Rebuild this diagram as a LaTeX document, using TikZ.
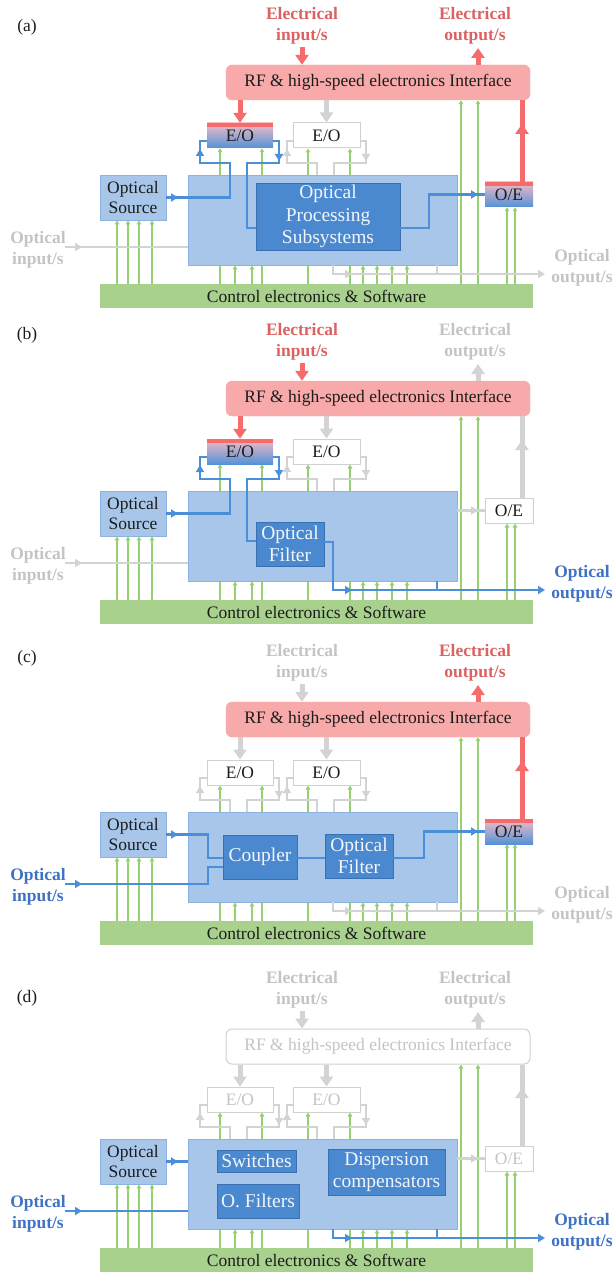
\documentclass[tikz,border=0pt]{standalone}
\usepackage{fontspec}
\setmainfont{Liberation Serif}
\usetikzlibrary{arrows.meta,backgrounds}
\pgfdeclarelayer{paper}
\pgfsetlayers{paper,background,main}
\definecolor{rfFill}{HTML}{F8A9A9}
\definecolor{redL}{HTML}{F66B6B}
\definecolor{redT}{HTML}{DC6262}
\definecolor{grayL}{HTML}{D3D3D3}
\definecolor{grayT}{HTML}{C4C4C4}
\definecolor{grayB}{HTML}{D0D0D0}
\definecolor{blueL}{HTML}{4A8FD8}
\definecolor{blueT}{HTML}{3F72C6}
\definecolor{boxL}{HTML}{A7C6E9}
\definecolor{boxLB}{HTML}{8DB2E0}
\definecolor{boxD}{HTML}{4A89D0}
\definecolor{boxDB}{HTML}{3A6FB0}
\definecolor{barG}{HTML}{A9D18E}
\definecolor{grnL}{HTML}{95D071}
\definecolor{txt}{HTML}{1C1C1C}
\definecolor{wtxt}{HTML}{F2F6FC}
\definecolor{eoBlue}{HTML}{5592D6}
\definecolor{eoMid}{HTML}{B3CCEC}
\definecolor{eoTop}{HTML}{F3BCC6}
\tikzset{
  basenode/.style={font=\fontsize{17.5}{20}\selectfont, inner sep=0pt, align=center, text=txt},
  lbl/.style={basenode, font=\bfseries\fontsize{17.5}{21}\selectfont},
  boxlight/.style={basenode, draw=boxLB, fill=boxL, line width=0.8pt},
  boxdark/.style={basenode, draw=boxDB, fill=boxD, text=wtxt, line width=0.8pt, font=\fontsize{19.5}{22.5}\selectfont},
  rfon/.style={basenode, draw=rfFill, fill=rfFill, rounded corners=6pt},
  rfoff/.style={basenode, draw=grayB, fill=white, text=grayT, rounded corners=6pt, line width=1pt},
  conv on/.style={basenode, draw=none, top color=eoTop, middle color=eoMid, bottom color=eoBlue,
     path picture={\fill[redL] (path picture bounding box.north west) rectangle ([yshift=-4pt]path picture bounding box.north east);}},
  conv off/.style={basenode, draw=grayB, fill=white, line width=1pt},
  conv dim/.style={conv off, text=grayT},
  barbox/.style={basenode, fill=barG, draw=none},
  fatline/.style={line width=5pt},
  fattip/.style={-{Triangle[length=10pt,width=13pt]}},
  oline/.style={line width=2.2pt},
  ahead/.style={-{Triangle[length=7pt,width=8pt]}},
  grn/.style={draw=grnL, line width=1.7pt, -{Triangle[length=4pt,width=4.5pt]}},
}
\newcommand\eobr[2]{%
  \begin{scope}[xshift=#2pt]
    \draw[oline, draw=#1, ahead] (230,175) -- (230,163) -- (200,163) -- (200,149);
    \draw[oline, draw=#1] (200,152) -- (200,141) -- (207,141);
    \draw[oline, draw=#1, ahead] (273,141) -- (279,141) -- (279,161);
    \draw[oline, draw=#1] (279,158) -- (279,163) -- (247,163) -- (247,175);
  \end{scope}}
\newcommand\panelbase[2]{%
  \node[basenode] (lab) at (27,#2) {(#1)};
  \node[rf, minimum width=304pt, minimum height=35pt] (rf) at (378,82.5) {RF \& high-speed electronics Interface};
  \node[eoA, minimum width=66pt, minimum height=25pt] (eo1) at (240,135.5) {E/O};
  \node[eoB, minimum width=67pt, minimum height=25pt] (eo2) at (326.5,135.5) {E/O};
  \node[boxlight, minimum width=269pt, minimum height=90pt] (proc) at (322.5,220) {};
  \node[oe, minimum width=48pt, minimum height=25pt] (oe) at (509,194.5) {O/E};
  \node[boxlight, minimum width=66pt, minimum height=45pt] (src) at (133,197.5) {Optical\\Source};
  \node[barbox, minimum width=433pt, minimum height=24pt] (bar) at (316.5,296) {Control electronics \& Software};
  \node[lbl, einT] (ein) at (302,26) {Electrical\\input/s};
  \node[lbl, eoutT] (eout) at (475,26) {Electrical\\output/s};
  \node[lbl, oinT] (oin) at (38,250) {Optical\\input/s};
  \node[lbl, ooutT] (oout) at (582,268) {Optical\\output/s};
  \begin{scope}[on background layer]
    \foreach \gx in {117,128,139,152} {\draw[grn] (\gx,0 |- bar.north) -- (\gx,0 |- src.south);}
    \foreach \gx in {220,262} {\draw[grn] (\gx,0 |- bar.north) -- (\gx,0 |- eo1.south);}
    \foreach \gx in {308,350} {\draw[grn] (\gx,0 |- bar.north) -- (\gx,0 |- eo2.south);}
    \foreach \gx in {235,252,363,377,392,407} {\draw[grn] (\gx,0 |- bar.north) -- (\gx,0 |- proc.south);}
    \foreach \gx in {461,478} {\draw[grn] (\gx,0 |- bar.north) -- (\gx,0 |- rf.south);}
    \foreach \gx in {507,515} {\draw[grn] (\gx,0 |- bar.north) -- (\gx,0 |- oe.south);}
  \end{scope}
  \draw[fatline, einL, fattip] (302,47) -- (302,0 |- rf.north);
  \draw[fatline, eoutL, fattip] (478,0 |- rf.north) -- (478,48);
  \draw[fatline, rfeoL, fattip] (rf.south -| eo1.north) -- (eo1.north);
  \draw[fatline, draw=grayL, fattip] (rf.south -| eo2.north) -- (eo2.north);
  \draw[fatline, oerfL] (oe.north -| 522,0) -- (522,0 |- rf.south);
  \draw[fatline, oerfL, fattip] (oe.north -| 522,0) -- (522,124);
  \eobr{grayL}{87}
}
\begin{document}
\begin{tikzpicture}[x=1pt,y=-1pt]
\useasboundingbox (0,0) rectangle (613,1273);
\begin{pgfonlayer}{paper}
  \fill[white] (0,0) rectangle (613,1273);
\end{pgfonlayer}

% ---------------- (a)
\begin{scope}[name prefix=a-, rf/.style=rfon, eoA/.style={conv on}, eoB/.style={conv off}, oe/.style={conv on},
   einL/.style={draw=redL}, einT/.style={text=redT}, eoutL/.style={draw=redL}, eoutT/.style={text=redT},
   rfeoL/.style={draw=redL}, oerfL/.style={draw=redL}, oinT/.style={text=grayT}, ooutT/.style={text=grayT}]
  \panelbase{a}{27}
  \node[boxdark, minimum width=144pt, minimum height=67pt] (sub) at (328,216.5) {Optical\\Processing\\Subsystems};
  \draw[oline, draw=blueL, ahead] (src.east) -- (178,197.5);
  \draw[oline, draw=blueL, ahead] (176,197.5) -- (230,197.5) -- (230,163) -- (200,163) -- (200,149);
  \draw[oline, draw=blueL] (200,152) -- (200,141) -- (eo1.west |- 0,141);
  \draw[oline, draw=blueL, ahead] (eo1.east |- 0,141) -- (279,141) -- (279,161);
  \draw[oline, draw=blueL] (279,158) -- (279,163) -- (247,163) -- (247,228) -- (sub.west |- 0,228);
  \draw[oline, draw=blueL, ahead] (sub.east |- 0,228) -- (429,228) -- (429,194.5) -- (478,194.5);
  \draw[oline, draw=blueL] (476,194.5) -- (oe.west);
  \draw[oline, draw=grayL, ahead] (65,247) -- (82,247);
  \draw[oline, draw=grayL] (80,247) -- (proc.west |- 0,247);
  \draw[oline, draw=grayL] (437,0 |- proc.south) -- (437,274);
  \draw[oline, draw=grayL, ahead] (333,0 |- proc.south) -- (333,274) -- (352,274);
  \draw[oline, draw=grayL, ahead] (350,274) -- (545,274);
\end{scope}

% ---------------- (b)
\begin{scope}[yshift=-316pt, name prefix=b-, rf/.style=rfon, eoA/.style={conv on}, eoB/.style={conv off}, oe/.style={conv off},
   einL/.style={draw=redL}, einT/.style={text=redT}, eoutL/.style={draw=grayL}, eoutT/.style={text=grayT},
   rfeoL/.style={draw=redL}, oerfL/.style={draw=grayL}, oinT/.style={text=grayT}, ooutT/.style={text=blueT}]
  \panelbase{b}{19}
  \node[boxdark, minimum width=68pt, minimum height=44pt] (filt) at (290,228) {Optical\\Filter};
  \draw[oline, draw=blueL, ahead] (src.east) -- (178,197.5);
  \draw[oline, draw=blueL, ahead] (176,197.5) -- (230,197.5) -- (230,163) -- (200,163) -- (200,149);
  \draw[oline, draw=blueL] (200,152) -- (200,141) -- (eo1.west |- 0,141);
  \draw[oline, draw=blueL, ahead] (eo1.east |- 0,141) -- (279,141) -- (279,161);
  \draw[oline, draw=blueL] (279,158) -- (279,163) -- (247,163) -- (247,225) -- (filt.west |- 0,225);
  \draw[oline, draw=blueL, ahead] (filt.east |- 0,226) -- (333,226) -- (333,274) -- (352,274);
  \draw[oline, draw=blueL, ahead] (350,274) -- (545,274);
  \draw[oline, draw=blueL] (437,0 |- proc.south) -- (437,274);
  \draw[oline, draw=grayL, ahead] (65,247) -- (82,247);
  \draw[oline, draw=grayL] (80,247) -- (proc.west |- 0,247);
  \draw[oline, draw=grayL, ahead] (proc.east |- oe.west) -- (478,194.5);
  \draw[oline, draw=grayL] (476,194.5) -- (oe.west);
\end{scope}

% ---------------- (c)
\begin{scope}[yshift=-637pt, name prefix=c-, rf/.style=rfon, eoA/.style={conv off}, eoB/.style={conv off}, oe/.style={conv on},
   einL/.style={draw=grayL}, einT/.style={text=grayT}, eoutL/.style={draw=redL}, eoutT/.style={text=redT},
   rfeoL/.style={draw=grayL}, oerfL/.style={draw=redL}, oinT/.style={text=blueT}, ooutT/.style={text=grayT}]
  \panelbase{c}{21}
  \eobr{grayL}{0}
  \node[boxdark, minimum width=74pt, minimum height=44pt] (coup) at (260,220) {Coupler};
  \node[boxdark, minimum width=68pt, minimum height=44pt] (filt) at (359,219) {Optical\\Filter};
  \draw[oline, draw=blueL, ahead] (src.east) -- (178,197.5);
  \draw[oline, draw=blueL] (176,197.5) -- (208,197.5) -- (208,221) -- (coup.west |- 0,221);
  \draw[oline, draw=blueL, ahead] (65,247) -- (82,247);
  \draw[oline, draw=blueL] (80,247) -- (208,247) -- (208,230) -- (coup.west |- 0,230);
  \draw[oline, draw=blueL] (coup.east |- 0,221) -- (filt.west |- 0,221);
  \draw[oline, draw=blueL, ahead] (filt.east |- 0,221) -- (424,221) -- (424,194.5) -- (478,194.5);
  \draw[oline, draw=blueL] (476,194.5) -- (oe.west);
  \draw[oline, draw=grayL] (437,0 |- proc.south) -- (437,274);
  \draw[oline, draw=grayL, ahead] (333,0 |- proc.south) -- (333,274) -- (352,274);
  \draw[oline, draw=grayL, ahead] (350,274) -- (545,274);
\end{scope}

% ---------------- (d)
\begin{scope}[yshift=-964pt, name prefix=d-, rf/.style=rfoff, eoA/.style={conv dim}, eoB/.style={conv dim}, oe/.style={conv dim},
   einL/.style={draw=grayL}, einT/.style={text=grayT}, eoutL/.style={draw=grayL}, eoutT/.style={text=grayT},
   rfeoL/.style={draw=grayL}, oerfL/.style={draw=grayL}, oinT/.style={text=blueT}, ooutT/.style={text=blueT}]
  \panelbase{d}{34}
  \eobr{grayL}{0}
  \node[boxdark, minimum width=79pt, minimum height=22pt] (sw) at (256.5,197) {Switches};
  \node[boxdark, minimum width=82pt, minimum height=34pt] (of) at (258,237) {O. Filters};
  \node[boxdark, minimum width=117pt, minimum height=46pt] (dc) at (386.5,208) {Dispersion\\compensators};
  \draw[oline, draw=blueL, ahead] (src.east) -- (178,197.5);
  \draw[oline, draw=blueL] (176,197.5) -- (proc.west |- src.east);
  \draw[oline, draw=blueL, ahead] (65,247) -- (82,247);
  \draw[oline, draw=blueL] (80,247) -- (proc.west |- 0,247);
  \draw[oline, draw=blueL] (437,0 |- proc.south) -- (437,274);
  \draw[oline, draw=blueL, ahead] (333,0 |- proc.south) -- (333,274) -- (352,274);
  \draw[oline, draw=blueL, ahead] (350,274) -- (545,274);
  \draw[oline, draw=grayL, ahead] (proc.east |- oe.west) -- (478,194.5);
  \draw[oline, draw=grayL] (476,194.5) -- (oe.west);
\end{scope}
\end{tikzpicture}
\end{document}
